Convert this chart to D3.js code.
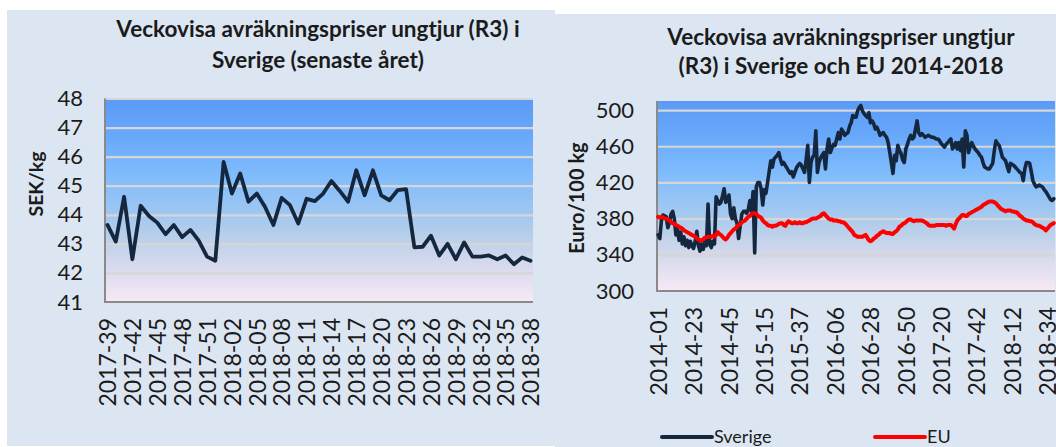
<!DOCTYPE html>
<html>
<head>
<meta charset="utf-8">
<script src="https://cdn.jsdelivr.net/npm/d3@7"></script>
<style>
  html, body { margin: 0; padding: 0; background: #ffffff; }
  svg { display: block; }
  text { font-family: Lato, "Open Sans", sans-serif; fill: #1b1b1b; }
</style>
</head>
<body>
<svg id="chart" width="1056" height="447"></svg>
<script>
// ---------- DATA ----------
// Left chart: weekly prices 2017-39 .. 2018-38 (SEK/kg)
const leftTickLabels = ["2017-39","2017-42","2017-45","2017-48","2017-51","2018-02","2018-05","2018-08","2018-11","2018-14","2018-17","2018-20","2018-23","2018-26","2018-29","2018-32","2018-35","2018-38"];
const leftValues = [43.65,43.08,44.62,42.47,44.31,43.96,43.73,43.33,43.65,43.23,43.48,43.11,42.56,42.42,
  45.82,44.73,45.42,44.45,44.73,44.27,43.65,44.58,44.33,43.70,44.55,44.47,44.73,45.16,44.82,44.45,
  45.53,44.67,45.53,44.67,44.50,44.85,44.88,42.88,42.90,43.28,42.60,43.00,42.47,43.05,42.56,42.56,
  42.60,42.47,42.60,42.30,42.53,42.42];
const leftYTicks = [41,42,43,44,45,46,47,48];

// Right chart: weekly prices 2014-01 .. 2018-38 (Euro/100 kg)
const rightTickLabels = ["2014-01","2014-23","2014-45","2015-15","2015-37","2016-06","2016-28","2016-50","2017-20","2017-42","2018-12","2018-34"];
const sverigeValues = [362,358,378,384,383,382,370,376,385,388,380,362,368,356,365,352,360,350,356,348,
  355,350,347,355,366,350,344,352,346,355,350,396,352,348,355,352,404,400,396,398,
  405,413,398,400,406,385,380,392,380,375,358,372,385,388,388,386,390,400,388,410,
  342,415,420,420,413,395,412,408,420,432,444,437,446,448,450,453,446,440,442,439,
  436,433,430,432,426,431,436,439,441,439,435,431,445,461,420,442,448,450,477,431,
  442,447,450,453,435,457,468,453,458,462,461,468,475,468,479,476,472,474,475,482,
  486,494,492,492,499,503,505,499,496,494,492,497,486,488,485,479,481,477,472,474,
  475,472,470,464,453,442,430,450,444,461,455,452,445,442,457,462,468,472,468,470,
  479,488,475,472,474,472,470,471,472,471,470,470,469,468,468,466,463,461,459,462,
  464,466,468,457,460,464,457,464,455,468,437,477,472,453,460,464,460,457,455,453,
  450,448,442,437,436,435,435,438,441,455,466,463,461,455,448,446,444,438,432,441,
  440,439,437,435,433,431,430,422,435,442,442,441,432,422,418,415,416,417,416,415,
  412,410,407,404,401,400,402];
const euValues = [382,381,382,381,380,380,379,378,376,375,374,373,372,371,370,369,367,366,365,364,
  363,362,361,360,358,357,356,356,357,359,359,360,360,360,361,360,362,365,363,362,
  360,358,357,359,362,364,366,368,369,371,373,374,376,377,378,380,382,383,385,386,
  386,385,383,382,381,378,376,375,373,372,372,371,372,372,373,374,375,375,373,372,
  375,377,376,375,375,376,375,375,376,375,375,376,376,377,378,379,380,380,380,381,
  382,383,385,386,384,382,380,379,379,378,378,378,377,377,376,376,375,373,371,369,
  367,365,362,361,360,360,360,360,361,362,359,356,355,356,358,359,361,362,364,365,
  366,365,364,364,364,363,363,365,366,368,371,372,374,375,376,378,379,379,378,377,
  378,378,378,378,378,377,376,375,373,372,372,372,372,373,373,373,373,373,373,372,
  373,373,373,371,369,374,378,380,382,384,384,383,383,385,386,387,388,389,390,391,
  392,393,395,396,397,398,399,399,399,398,397,395,393,391,390,389,388,389,389,389,
  388,388,387,387,385,383,382,380,379,378,378,377,377,376,374,373,372,372,371,370,
  369,367,369,371,373,374,375];
const rightYTicks = [300,340,380,420,460,500];

// calendar of week categories (year, first week, last week)
const leftSpan  = [[2017,39,52],[2018,1,38]];
const rightSpan = [[2014,1,52],[2015,1,53],[2016,1,52],[2017,1,52],[2018,1,38]];
function weekList(span){
  const out = [];
  span.forEach(([y,a,b]) => { for (let w=a; w<=b; w++) out.push(y + "-" + String(w).padStart(2,"0")); });
  return out;
}
const leftWeeks = weekList(leftSpan);
const rightWeeks = weekList(rightSpan);

// ---------- DRAW ----------
const svg = d3.select("#chart");
const defs = svg.append("defs");
const grad = defs.append("linearGradient").attr("id","plotGrad")
  .attr("x1",0).attr("y1",0).attr("x2",0).attr("y2",1);
[["0%","#5b9af6"],["18%","#68a8fa"],["38%","#80bcfc"],["55%","#9cc6f2"],["68%","#b8cfea"],["80%","#d3d8ec"],["100%","#f8e9f6"]]
  .forEach(([o,c]) => grad.append("stop").attr("offset",o).attr("stop-color",c));

const NAVY = "#14273f", RED = "#ff0000", GRID = "#d6d6d6", AXIS = "#8a8a8a", PANEL = "#dce6f2";

// panels
svg.append("rect").attr("x",7).attr("y",10).attr("width",548).attr("height",436).attr("fill",PANEL);
svg.append("rect").attr("x",555).attr("y",14).attr("width",501).attr("height",433).attr("fill",PANEL);

function drawChart(cfg){
  const g = svg.append("g");
  const x = d3.scalePoint().domain(cfg.cats).range([cfg.x0, cfg.x1]).padding(cfg.pad);
  const y = d3.scaleLinear().domain(cfg.yDomain).range([cfg.y1, cfg.y0]);
  // plot background
  g.append("rect").attr("x",cfg.x0).attr("y",cfg.y0).attr("width",cfg.x1-cfg.x0).attr("height",cfg.y1-cfg.y0)
    .attr("fill","url(#plotGrad)");
  // grid
  const yAxis = d3.axisLeft(y).tickValues(cfg.yTicks).tickSize(-(cfg.x1-cfg.x0)).tickPadding(cfg.yPad).tickFormat(d3.format("d"));
  const ya = g.append("g").attr("transform",`translate(${cfg.x0},0)`).call(yAxis);
  ya.select(".domain").remove();
  ya.selectAll(".tick line").attr("stroke",GRID).attr("stroke-width",2.2)
    .filter(d => d === cfg.yDomain[0]).remove();
  ya.selectAll(".tick text").attr("font-size",cfg.yFont).attr("fill","#1b1b1b")
    .style("font-family","Lato, sans-serif");
  // x axis labels
  const xAxis = d3.axisBottom(x).tickValues(cfg.xTicks).tickSize(0).tickPadding(0);
  const xa = g.append("g").attr("transform",`translate(0,${cfg.y1})`).call(xAxis);
  xa.select(".domain").remove();
  xa.selectAll(".tick text").attr("font-size",cfg.xFont).attr("fill","#1b1b1b")
    .style("font-family","Lato, sans-serif")
    .attr("transform","rotate(-90)").attr("text-anchor","end")
    .attr("x",-cfg.xLabelGap).attr("y",0).attr("dy","0.36em");
  // axis lines (left & bottom)
  g.append("line").attr("x1",cfg.x0).attr("x2",cfg.x0).attr("y1",cfg.y0).attr("y2",cfg.y1+1)
    .attr("stroke",AXIS).attr("stroke-width",2);
  g.append("line").attr("x1",cfg.x0).attr("x2",cfg.x1).attr("y1",cfg.y1).attr("y2",cfg.y1)
    .attr("stroke",AXIS).attr("stroke-width",2);
  // series
  cfg.series.forEach(s => {
    g.append("path").datum(s.values)
      .attr("fill","none").attr("stroke",s.color).attr("stroke-width",s.width)
      .attr("stroke-linejoin","round").attr("stroke-linecap","round")
      .attr("d", d3.line().x((d,i) => x(cfg.cats[i])).y(d => y(d)));
  });
  // titles
  cfg.title.forEach((t,i) => {
    g.append("text").attr("x",cfg.titleX).attr("y",cfg.titleY[i]).attr("text-anchor","middle")
      .attr("font-size",cfg.titleFont).attr("font-weight","bold").text(t);
  });
  g.append("text").attr("transform",`translate(${cfg.yTitleX},${cfg.yTitleY}) rotate(-90)`)
    .attr("text-anchor","middle").attr("dy","0.35em")
    .attr("font-size",cfg.yTitleFont).attr("font-weight","bold").text(cfg.yTitle);
}

drawChart({
  cats: leftWeeks, xTicks: leftTickLabels, pad: 0.3,
  x0: 105, x1: 533, y0: 98.5, y1: 302,
  yDomain: [41,48], yTicks: leftYTicks, yPad: 22, yFont: 22,
  xFont: 23, xLabelGap: 16,
  series: [{values: leftValues, color: NAVY, width: 3.8}],
  title: ["Veckovisa avräkningspriser ungtjur (R3) i", "Sverige (senaste året)"],
  titleX: 318, titleY: [37, 68], titleFont: 22.5,
  yTitle: "SEK/kg", yTitleX: 36, yTitleY: 184, yTitleFont: 19.5
});

drawChart({
  cats: rightWeeks, xTicks: rightTickLabels, pad: 0.75,
  x0: 657, x1: 1055, y0: 101, y1: 291,
  yDomain: [300,510], yTicks: rightYTicks, yPad: 23, yFont: 22,
  xFont: 23, xLabelGap: 16,
  series: [{values: sverigeValues, color: NAVY, width: 3.6}, {values: euValues, color: RED, width: 4}],
  title: ["Veckovisa avräkningspriser ungtjur", "(R3) i Sverige och EU 2014-2018"],
  titleX: 841, titleY: [45, 74], titleFont: 22.5,
  yTitle: "Euro/100 kg", yTitleX: 577, yTitleY: 198, yTitleFont: 20
});

// legend
const legendItems = [{name:"Sverige", color:NAVY, x:662}, {name:"EU", color:RED, x:875}];
const lg = svg.append("g");
legendItems.forEach(it => {
  lg.append("line").attr("x1",it.x).attr("x2",it.x+50).attr("y1",437).attr("y2",437)
    .attr("stroke",it.color).attr("stroke-width",4).attr("stroke-linecap","round");
  lg.append("text").attr("x",it.x+52).attr("y",437).attr("dy","0.35em")
    .attr("font-size",18).text(it.name);
});
</script>
</body>
</html>
